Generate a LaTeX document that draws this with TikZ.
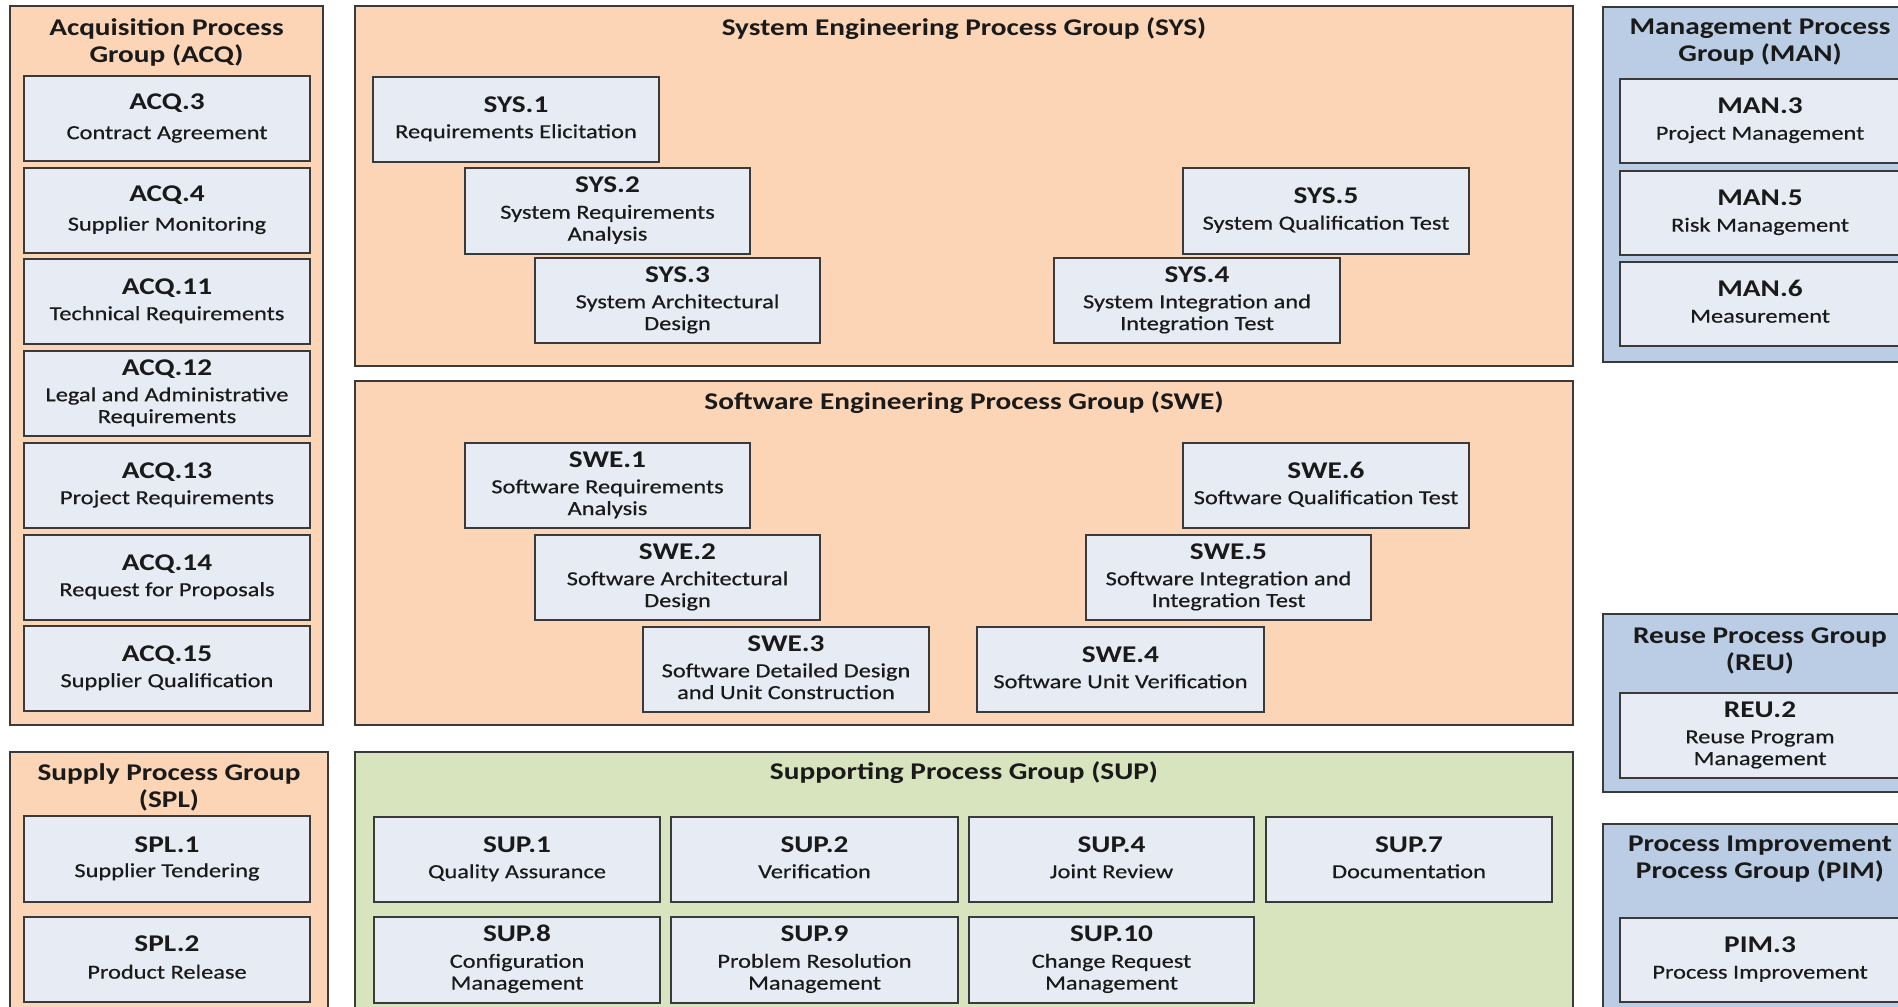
\documentclass[tikz,border=0pt]{standalone}
\usepackage{fontspec}
\setmainfont{Carlito}[FakeStretch=1.22, UprightFeatures={FakeBold=0.5}]

\definecolor{edge}{HTML}{3A3A3A}
\definecolor{ink}{HTML}{1A1A1A}
\definecolor{orangefill}{HTML}{FBD5B6}
\definecolor{greenfill}{HTML}{D7E4BD}
\definecolor{bluefill}{HTML}{BACDE4}
\definecolor{boxfill}{HTML}{E7ECF4}

% bold process identifier on the first line of a box
\newcommand\lbl[1]{{\fontsize{12}{13}\selectfont\bfseries\rule{0pt}{9pt}#1}}

% process box: [gap] name, x1, y1, x2, y2, identifier, description
\newcommand\procbox[8][2pt]{%
  \node[proc, minimum width={(#5-#3)*0.5pt}, minimum height={(#6-#4)*0.5pt}]
    (#2) at ({(#3+#5)/2},{(#4+#6)/2}) {\lbl{#7}\\[#1]#8\strut};}

% process group frame: name, x1, y1, x2, y2, fill colour
\newcommand\grpbox[6]{%
  \node[grp, fill=#6, minimum width={(#4-#2)*0.5pt}, minimum height={(#5-#3)*0.5pt}]
    (#1) at ({(#2+#4)/2},{(#3+#5)/2}) {};}

\begin{document}
\begin{tikzpicture}[x=0.5pt, y=-0.5pt,
  grp/.style={draw=edge, line width=1.1pt, inner sep=0pt, rectangle},
  proc/.style={draw=edge, fill=boxfill, line width=1.1pt, inner sep=0pt,
    rectangle, align=center, text=ink, font=\fontsize{10}{10.9}\selectfont},
  gtitle/.style={align=center, text=ink, inner sep=0pt,
    font=\fontsize{12}{13.5}\selectfont\bfseries}]

\useasboundingbox (0,0) rectangle (1898,1006);
\clip (0,0) rectangle (1898,1006);
\fill[white] (0,0) rectangle (1898,1006);

% ---- group frames
\grpbox{acq}{10}{6}{323}{725}{orangefill}
\grpbox{spl}{10}{752}{328}{1040}{orangefill}
\grpbox{sys}{355}{6}{1573}{366}{orangefill}
\grpbox{swe}{355}{381}{1573}{725}{orangefill}
\grpbox{sup}{355}{752}{1573}{1040}{greenfill}
\grpbox{man}{1603}{7}{1917}{362}{bluefill}
\grpbox{reu}{1603}{614}{1917}{792}{bluefill}
\grpbox{pim}{1603}{824}{1917}{1040}{bluefill}

% ---- group titles
\node[gtitle] (acqT) at (166.5,42) {Acquisition Process\\Group (ACQ)};
\node[gtitle] (splT) at (169,787) {Supply Process Group\\(SPL)};
\node[gtitle] (sysT) at (964,29) {System Engineering Process Group (SYS)};
\node[gtitle] (sweT) at (964,403) {Software Engineering Process Group (SWE)};
\node[gtitle] (supT) at (964,773) {Supporting Process Group (SUP)};
\node[gtitle] (manT) at (1760,42) {Management Process\\Group (MAN)};
\node[gtitle] (reuT) at (1760,651) {Reuse Process Group\\(REU)};
\node[gtitle] (pimT) at (1760,859) {Process Improvement\\Process Group (PIM)};

% ---- acquisition
\procbox[4pt]{acq3}{24}{76}{310}{161}{ACQ.3}{Contract Agreement}
\procbox[3.5pt]{acq4}{24}{168}{310}{253}{ACQ.4}{Supplier Monitoring}
\procbox{acq11}{24}{259}{310}{344}{ACQ.11}{Technical Requirements}
\procbox{acq12}{24}{351}{310}{436}{ACQ.12}{Legal and Administrative\\Requirements}
\procbox{acq13}{24}{443}{310}{528}{ACQ.13}{Project Requirements}
\procbox{acq14}{24}{535}{310}{620}{ACQ.14}{Request for Proposals}
\procbox{acq15}{24}{626}{310}{711}{ACQ.15}{Supplier Qualification}

% ---- supply
\procbox[1.5pt]{spl1}{24}{816}{310}{902}{SPL.1}{Supplier Tendering}
\procbox[2.5pt]{spl2}{24}{917}{310}{1002}{SPL.2}{Product Release}

% ---- system engineering
\procbox{sys1}{373}{77}{659}{162}{SYS.1}{Requirements Elicitation}
\procbox{sys2}{465}{168}{750}{254}{SYS.2}{System Requirements\\Analysis}
\procbox{sys3}{535}{258}{820}{343}{SYS.3}{System Architectural\\Design}
\procbox{sys5}{1183}{168}{1469}{254}{SYS.5}{System Qualification Test}
\procbox{sys4}{1054}{258}{1340}{343}{SYS.4}{System Integration and\\Integration Test}

% ---- software engineering
\procbox{swe1}{465}{443}{750}{528}{SWE.1}{Software Requirements\\Analysis}
\procbox{swe2}{535}{535}{820}{620}{SWE.2}{Software Architectural\\Design}
\procbox{swe3}{643}{627}{929}{712}{SWE.3}{Software Detailed Design\\and Unit Construction}
\procbox{swe4}{977}{627}{1264}{712}{SWE.4}{Software Unit Verification}
\procbox{swe5}{1086}{535}{1371}{620}{SWE.5}{Software Integration and\\Integration Test}
\procbox{swe6}{1183}{443}{1469}{528}{SWE.6}{Software Qualification Test}

% ---- supporting
\procbox{sup1}{374}{817}{660}{902}{SUP.1}{Quality Assurance}
\procbox{sup2}{671}{817}{958}{902}{SUP.2}{Verification}
\procbox{sup4}{969}{817}{1254}{902}{SUP.4}{Joint Review}
\procbox{sup7}{1266}{817}{1552}{902}{SUP.7}{Documentation}
\procbox{sup8}{374}{917}{660}{1003}{SUP.8}{Configuration\\Management}
\procbox{sup9}{671}{917}{958}{1003}{SUP.9}{Problem Resolution\\Management}
\procbox{sup10}{969}{917}{1254}{1003}{SUP.10}{Change Request\\Management}

% ---- management
\procbox{man3}{1620}{79}{1900}{163}{MAN.3}{Project Management}
\procbox{man5}{1620}{171}{1900}{255}{MAN.5}{Risk Management}
\procbox{man6}{1620}{262}{1900}{346}{MAN.6}{Measurement}

% ---- reuse
\procbox{reu2}{1620}{693}{1900}{778}{REU.2}{Reuse Program\\Management}

% ---- process improvement
\procbox{pim3}{1620}{918}{1900}{1002}{PIM.3}{Process Improvement}

\end{tikzpicture}
\end{document}
